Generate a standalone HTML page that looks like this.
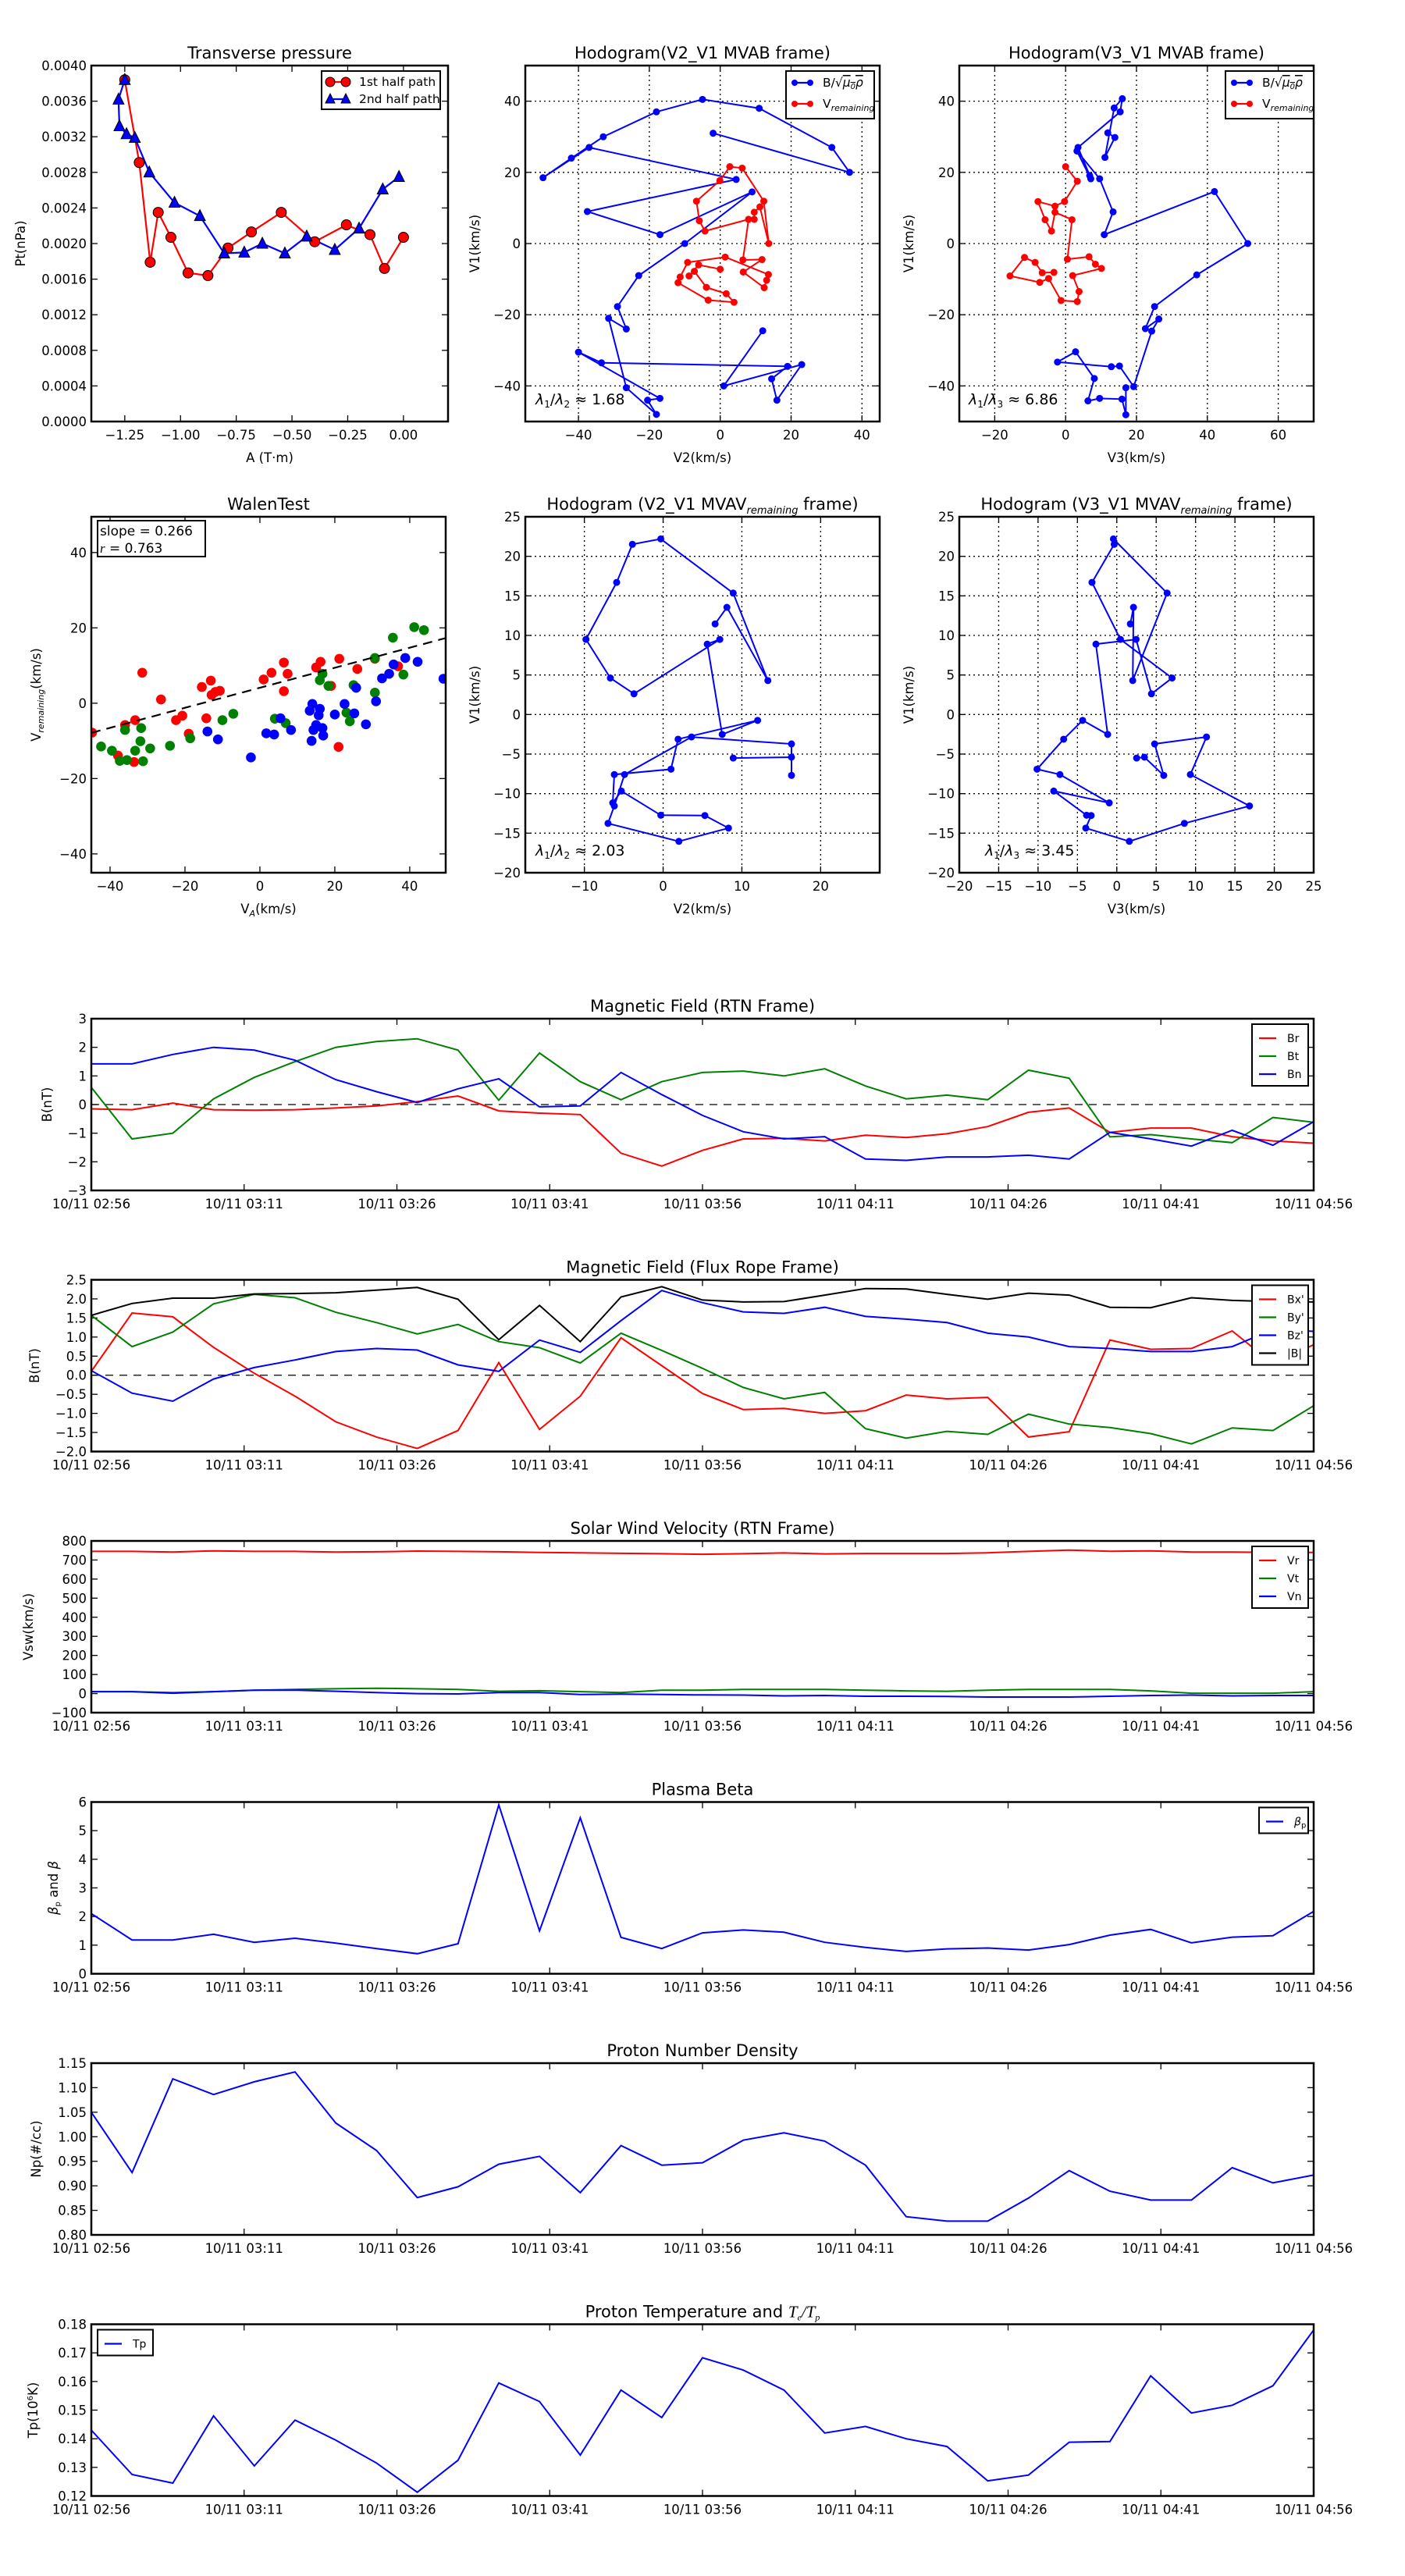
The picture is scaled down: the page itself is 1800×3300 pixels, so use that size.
<!DOCTYPE html>
<html><head><meta charset="utf-8"><style>
html,body{margin:0;padding:0;background:#fff}
svg{display:block;font-family:"DejaVu Sans","Liberation Sans",sans-serif}
</style></head><body>
<svg id="fig" width="1800" height="3300" viewBox="0 0 1800 3300" xmlns="http://www.w3.org/2000/svg">
<rect width="1800" height="3300" fill="#fff"/>
</svg>
<script>
// ---------- data ----------
const timeTickLabels=["10/11 02:56","10/11 03:11","10/11 03:26","10/11 03:41","10/11 03:56","10/11 04:11","10/11 04:26","10/11 04:41","10/11 04:56"];
const timeTickMinutes=[0,15,30,45,60,75,90,105,120];
const timeMinutes=[0,4,8,12,16,20,24,28,32,36,40,44,48,52,56,60,64,68,72,76,80,84,88,92,96,100,104,108,112,116,120];
const Br=[-0.15,-0.18,0.05,-0.18,-0.2,-0.18,-0.12,-0.05,0.1,0.3,-0.22,-0.3,-0.35,-1.7,-2.15,-1.6,-1.2,-1.18,-1.27,-1.07,-1.15,-1.02,-0.77,-0.27,-0.12,-0.97,-0.82,-0.82,-1.12,-1.27,-1.35];
const Bt=[0.6,-1.2,-1.0,0.2,0.95,1.5,2.0,2.2,2.3,1.9,0.15,1.8,0.8,0.17,0.8,1.12,1.17,1.0,1.25,0.65,0.2,0.33,0.17,1.2,0.92,-1.13,-1.05,-1.2,-1.33,-0.45,-0.62];
const Bn=[1.42,1.42,1.75,2.0,1.9,1.55,0.87,0.45,0.07,0.55,0.9,-0.08,-0.05,1.12,0.35,-0.38,-0.95,-1.2,-1.12,-1.9,-1.95,-1.83,-1.83,-1.77,-1.9,-0.97,-1.2,-1.45,-0.9,-1.42,-0.6];
const Bxp=[0.1,1.63,1.53,0.73,0.05,-0.55,-1.22,-1.62,-1.92,-1.45,0.33,-1.42,-0.55,0.98,0.25,-0.48,-0.9,-0.87,-1.0,-0.93,-0.52,-0.62,-0.58,-1.62,-1.48,0.92,0.68,0.7,1.16,0.3,0.8];
const Byp=[1.57,0.75,1.13,1.87,2.12,2.03,1.65,1.38,1.08,1.33,0.88,0.72,0.32,1.1,0.65,0.18,-0.32,-0.62,-0.45,-1.4,-1.65,-1.47,-1.55,-1.02,-1.28,-1.37,-1.53,-1.8,-1.38,-1.45,-0.8];
const Bzp=[0.12,-0.47,-0.68,-0.1,0.2,0.4,0.62,0.7,0.66,0.27,0.1,0.92,0.6,1.43,2.22,1.9,1.66,1.62,1.78,1.54,1.47,1.38,1.1,1.0,0.75,0.7,0.62,0.62,0.75,1.2,1.15];
const Bmag=[1.57,1.88,2.02,2.02,2.13,2.14,2.16,2.23,2.3,1.99,0.93,1.83,0.88,2.05,2.32,1.97,1.92,1.93,2.1,2.27,2.26,2.12,1.99,2.15,2.1,1.78,1.77,2.03,1.96,1.93,1.92];
const Vr=[745,745,742,748,745,745,742,743,747,745,743,740,738,735,733,730,733,737,732,734,734,734,738,745,752,746,748,742,742,740,740];
const Vt=[10,10,5,10,18,22,25,28,25,22,12,15,10,5,18,18,22,22,22,18,14,12,18,22,22,22,14,2,2,2,10];
const Vn=[10,10,2,10,18,18,12,5,0,-2,5,5,-5,-3,-5,-7,-8,-12,-10,-14,-14,-15,-18,-18,-18,-14,-10,-8,-12,-10,-10];
const betaP=[2.1,1.18,1.18,1.38,1.1,1.24,1.07,0.88,0.7,1.05,5.9,1.5,5.45,1.27,0.88,1.43,1.53,1.45,1.1,0.92,0.78,0.87,0.9,0.83,1.02,1.35,1.55,1.08,1.28,1.33,2.18];
const Np=[1.05,0.927,1.118,1.086,1.112,1.132,1.028,0.972,0.876,0.898,0.944,0.96,0.886,0.982,0.942,0.947,0.993,1.008,0.991,0.942,0.837,0.828,0.828,0.875,0.931,0.889,0.871,0.871,0.937,0.906,0.922];
const Tp=[0.143,0.1275,0.1245,0.148,0.1305,0.1465,0.1395,0.1315,0.1213,0.1325,0.1595,0.153,0.1343,0.157,0.1474,0.1683,0.164,0.157,0.142,0.1443,0.14,0.1373,0.1253,0.1273,0.1388,0.139,0.162,0.149,0.1517,0.1585,0.178];

const ptRedA=[-1.25,-1.185,-1.136,-1.10,-1.043,-0.966,-0.877,-0.787,-0.682,-0.548,-0.398,-0.256,-0.15,-0.085,0.0];
const ptRedP=[0.00384,0.00291,0.00179,0.00235,0.00207,0.00167,0.00164,0.00195,0.00213,0.00235,0.00202,0.00221,0.0021,0.00172,0.00207];
const ptBlueA=[-1.25,-1.278,-1.274,-1.242,-1.205,-1.14,-1.027,-0.913,-0.804,-0.714,-0.633,-0.532,-0.434,-0.308,-0.199,-0.093,-0.02];
const ptBlueP=[0.00384,0.00362,0.00332,0.00323,0.00319,0.0028,0.00246,0.00231,0.00189,0.0019,0.002,0.00189,0.00208,0.00193,0.00217,0.00261,0.00275];

const h1BX=[-2,36.5,31.5,11,-5,-18,-33,-42,-50,-37,4.5,-37.5,-17,9,-10,-23,-29,-26.5,-31.5,-26.5,-18,-20.5,-17,-40,-33.5,19,14.5,16,23,1,12];
const h1BY=[31,20,27,38,40.5,37,30,24,18.5,27,18,9,2.5,14.5,0,-9,-17.7,-24,-21,-40.5,-48,-44,-43.5,-30.5,-33.5,-34.5,-38,-44,-34,-40,-24.5];
const h1RX=[0,-6.1,-8.8,-7.3,-3.9,1.7,3.9,-3.4,-11.9,-11.3,-9.2,1.4,13.6,13.1,12.4,6.5,11.8,6.4,8,9.6,9.6,11.2,13.7,12.3,6.2,2.7,-0.1,-6.7,-5.9,-4.3,8];
const h1RY=[-7.2,-6,-9.1,-7.8,-12.3,-14.1,-16.5,-15.9,-11,-9.4,-5.3,-3.8,-8.7,-10.3,-12.4,-8,-4.5,-4.6,6.8,6.8,8.8,10.3,0,11.9,21.2,21.6,17.7,11.9,6.4,3.5,6.8];
const h2BX=[11.9,13.9,11.1,13.7,16,15.4,3.5,6.8,7.1,3.2,9.6,13.4,10.9,42,51.4,37,25.1,22.5,26.3,24.3,19.2,15.2,12.9,-2.3,2.8,8.1,6.3,9.6,15.9,17,17];
const h2BY=[31.1,29.8,24.2,38.1,40.7,37,27,19.1,18.2,26,18.2,8.9,2.5,14.6,0,-8.8,-17.7,-23.9,-21.2,-24.6,-40.2,-34.4,-34.6,-33.3,-30.4,-37.9,-44.2,-43.5,-43.7,-48.1,-40.5];
const h2RX=[0,3.3,-0.3,-3,-7.8,-5.8,-4,-3,1.8,0.5,6.6,8.4,10.1,2,3.8,3.3,-1.3,-4.8,-7.3,-15.7,-11.6,-8.6,-6.6,-3.3];
const h2RY=[21.6,17.5,11.8,10.5,11.8,6.7,3.5,8.8,6.7,-4.4,-3.7,-5.8,-7,-9,-13.5,-16.3,-16,-9.8,-10.9,-9.1,-3.9,-5.3,-8.2,-8.1];

const remV1=[11.45,13.55,4.29,15.35,22.2,21.52,16.7,9.5,4.61,2.62,9.5,8.9,-2.52,-0.74,-3.12,-6.91,-7.59,-11.17,-9.68,-12.73,-12.77,-14.36,-16.03,-13.76,-11.56,-7.59,-2.84,-3.72,-7.7,-5.39,-5.5];
const remV2=[6.6,8.1,13.3,8.9,-0.3,-3.9,-5.9,-9.8,-6.7,-3.7,7.2,5.6,7.5,12,1.9,1,-6.2,-6.4,-5.3,-0.3,5.3,8.3,2,-7,-6.2,-4.9,3.6,16.3,16.3,16.3,8.9];
const remV3=[1.72,2.12,2.02,6.39,-0.43,-0.33,-3.15,0.46,7.02,4.4,2.45,-2.65,-1.16,-4.34,-6.75,-10.13,-7.22,-0.96,-8.01,-3.84,-3.25,-3.94,1.59,8.58,16.85,9.34,11.39,4.8,5.96,3.51,2.52];

const walenRedX=[-44.8,-37.9,-36,-33.6,-33.3,-31.4,-26.4,-22.4,-20.7,-19,-15.5,-14.3,-13.1,-12.9,-11.9,-10.7,1,3.1,6.4,6.4,7.4,15,16.2,19,21,21.2,26,30.7,36.9];
const walenRedY=[-7.8,-13.9,-5.8,-15.6,-4.5,8.1,1,-4.5,-3.3,-8.1,4.3,-4,6,2.2,3,3.3,6.3,8.1,10.8,3.2,7.8,9.5,11,4.6,-11.6,11.8,9.1,11.8,9.8];
const walenGreenX=[-42.4,-39.5,-37.4,-36,-35.5,-33.3,-31.9,-31.7,-31.2,-29.3,-24,-18.6,-10,-7.1,4,6.9,16,16.7,18.3,23.1,24,25,30.7,30.7,35.5,38.3,41.2,43.8];
const walenGreenY=[-11.5,-12.6,-15.3,-7.1,-15.1,-12.6,-10.1,-6.6,-15.4,-12,-11.3,-9.3,-4.5,-2.8,-4.1,-5.3,6.1,7.8,4.6,-2.5,-4.8,4.8,2.8,12,17.4,7.6,20.2,19.4];
const walenBlueX=[-14,-11.2,-2.4,1.7,3.8,5.5,8.3,13.3,14,13.8,14.3,15,15.7,16,16.7,16.9,20,22.6,25.2,25.7,28.3,31,32.6,34.5,35.7,38.8,42.1,49];
const walenBlueY=[-7.5,-9.6,-14.4,-8,-8.3,-4,-7.1,-2,-0.2,-10,-7.1,-5.8,-3.2,-1.5,-6.6,-8.6,-3,-0.2,-2.7,4.1,-5.6,0.5,6.6,7.8,10.3,12,11,6.5];
const walenSlope=[0.266];
const walenIntercept=[4.1];

// ---------- helpers ----------
const NS='http://www.w3.org/2000/svg';
const svg=document.getElementById('fig');
function mk(tag,attrs,parent){const e=document.createElementNS(NS,tag);for(const k in attrs)e.setAttribute(k,attrs[k]);(parent||svg).appendChild(e);return e;}
function fmtNum(v,d){const s=Math.abs(v).toFixed(d);return (v<0?'\u2212':'')+s;}
function txt(x,y,s,size,anchor,parent,extra){const t=mk('text',Object.assign({x:x,y:y,'font-size':size,'text-anchor':anchor||'middle',fill:'#000'},extra||{}),parent);t.textContent=s;return t;}

function makeAxes(o){
  const g=mk('g',{});
  
  
  const sx=v=>o.x0+(v-o.xmin)/(o.xmax-o.xmin)*o.w;
  const sy=v=>o.y0+o.h-(v-o.ymin)/(o.ymax-o.ymin)*o.h;
  const clipId='c'+o.name;
  const cp=mk('clipPath',{id:clipId},g);mk('rect',{x:o.x0,y:o.y0,width:o.w,height:o.h},cp);
  if(o.grid){
    o.xticks.forEach(v=>{const l=mk('line',{x1:sx(v),x2:sx(v),y1:o.y0,y2:o.y0+o.h,stroke:'#000','stroke-width':1.3,'stroke-dasharray':'2,4'},g);});
    o.yticks.forEach(v=>{const l=mk('line',{x1:o.x0,x2:o.x0+o.w,y1:sy(v),y2:sy(v),stroke:'#000','stroke-width':1.3,'stroke-dasharray':'2,4'},g);});
  }
  o.xticks.forEach((v,i)=>{
    const X=sx(v);
    mk('line',{x1:X,x2:X,y1:o.y0+o.h,y2:o.y0+o.h-8,stroke:'#000','stroke-width':1.3},g);
    mk('line',{x1:X,x2:X,y1:o.y0,y2:o.y0+8,stroke:'#000','stroke-width':1.3},g);
    const t=txt(X,o.y0+o.h+23,o.xlabels?o.xlabels[i]:fmtNum(v,o.xdec||0),16.5,'middle',g);
    
    
  });
  o.yticks.forEach((v,i)=>{
    const Y=sy(v);
    mk('line',{x1:o.x0,x2:o.x0+8,y1:Y,y2:Y,stroke:'#000','stroke-width':1.3},g);
    mk('line',{x1:o.x0+o.w,x2:o.x0+o.w-8,y1:Y,y2:Y,stroke:'#000','stroke-width':1.3},g);
    const t=txt(o.x0-6,Y+6,fmtNum(v,o.ydec||0),16.5,'end',g);
    
    
  });
  const plot=mk('g',{'clip-path':'url(#'+clipId+')'},g);
  
  
  const fr=mk('rect',{x:o.x0,y:o.y0,width:o.w,height:o.h,fill:'none',stroke:'#000','stroke-width':2.5},g);
  
  
  const tt=txt(o.x0+o.w/2,o.y0-9,o.title,21,'middle',g);
  
  
  if(o.ttitleHTML){tt.textContent='';tt.innerHTML=o.ttitleHTML;}
  if(o.xlabel){const t=txt(o.x0+o.w/2,o.y0+o.h+52,o.xlabel,16.5,'middle',g);if(o.xlabelHTML)t.innerHTML=o.xlabelHTML;}
  if(o.ylabel){const cx=o.ylx,cy=o.y0+o.h/2;const t=txt(cx,cy,o.ylabel,16.5,'middle',g,{transform:'rotate(-90 '+cx+' '+cy+')'});if(o.ylabelHTML)t.innerHTML=o.ylabelHTML;}
  return {g,plot,sx,sy};
}
function polyline(ax,xs,ys,color,w,name){
  const pts=xs.map((x,i)=>ax.sx(x).toFixed(1)+','+ax.sy(ys[i]).toFixed(1)).join(' ');
  const p=mk('polyline',{points:pts,fill:'none',stroke:color,'stroke-width':w||2,'stroke-linejoin':'miter'},ax.plot);
  
  
  return p;
}
function dots(ax,xs,ys,color,r,name,stroke){
  xs.forEach((x,i)=>{
    const c=mk('circle',{cx:ax.sx(x),cy:ax.sy(ys[i]),r:r,fill:color,stroke:stroke||'none','stroke-width':1},ax.plot);
    
    
  });
}
function legendBox(x,y,w,h,entries,name,fs,lineLen){
  const g=mk('g',{});
  
  
  mk('rect',{x:x,y:y,width:w,height:h,fill:'#fff',stroke:'#000','stroke-width':2},g);
  entries.forEach(e=>{
    const eg=mk('g',{},g);
    
    
    mk('line',{x1:x+e.lx,x2:x+e.lx+lineLen,y1:y+e.y,y2:y+e.y,stroke:e.color,'stroke-width':2.2},eg);
    if(e.marker==='dot'){mk('circle',{cx:x+e.lx,cy:y+e.y,r:4,fill:e.color},eg);mk('circle',{cx:x+e.lx+lineLen,cy:y+e.y,r:4,fill:e.color},eg);}
    if(e.marker==='bigdot'){mk('circle',{cx:x+e.lx,cy:y+e.y,r:6,fill:e.color,stroke:'#000'},eg);mk('circle',{cx:x+e.lx+lineLen,cy:y+e.y,r:6,fill:e.color,stroke:'#000'},eg);}
    if(e.marker==='tri'){[x+e.lx,x+e.lx+lineLen].forEach(cx=>mk('polygon',{points:(cx-6)+','+(y+e.y+5)+' '+(cx+6)+','+(y+e.y+5)+' '+cx+','+(y+e.y-7),fill:e.color,stroke:'#000'},eg));}
    const t=txt(x+e.tx,y+e.y+5,e.label,fs,'start',eg);
    if(e.html)t.innerHTML=e.html;
  });
  return g;
}

// ---------- Row 1 ----------
const axP=makeAxes({name:'transverse-pressure-chart',x0:117,y0:84,w:457,h:456,xmin:-1.4,xmax:0.2,ymin:0,ymax:0.004,
  xticks:[-1.25,-1,-0.75,-0.5,-0.25,0],xdec:2,yticks:[0,0.0004,0.0008,0.0012,0.0016,0.002,0.0024,0.0028,0.0032,0.0036,0.004],ydec:4,
  title:'Transverse pressure',xlabel:'A (T\u00b7m)',ylabel:'Pt(nPa)',ylx:32});
polyline(axP,ptRedA,ptRedP,'#f00',2.2,'first-half-path-line');
polyline(axP,ptBlueA,ptBlueP,'#00f',2.2,'second-half-path-line');
dots(axP,ptRedA,ptRedP,'#f00',6.5,'first-half-point','#000');
ptBlueA.forEach((a,i)=>{const X=axP.sx(a),Y=axP.sy(ptBlueP[i]);
  const t=mk('polygon',{points:(X-7)+','+(Y+6)+' '+(X+7)+','+(Y+6)+' '+X+','+(Y-8),fill:'#00f',stroke:'#000','stroke-width':1},axP.plot);
  
  });
legendBox(412,91,152,49,[{lx:11,y:14,tx:48,color:'#f00',marker:'bigdot',label:'1st half path'},{lx:11,y:36,tx:48,color:'#00f',marker:'tri',label:'2nd half path'}],'pressure-legend',15.5,20);

function hodo(name,x0,y0,w,h,xmin,xmax,ymin,ymax,xt,yt,title,xl,ylx,titleHTML){
  return makeAxes({name:name,x0:x0,y0:y0,w:w,h:h,xmin:xmin,xmax:xmax,ymin:ymin,ymax:ymax,xticks:xt,yticks:yt,grid:true,title:title,ttitleHTML:titleHTML,xlabel:xl,ylabel:'V1(km/s)',ylx:ylx});
}
const ax1=hodo('hodogram-v2-v1-mvab',673,84,454,456,-55,45,-50,50,[-40,-20,0,20,40],[-40,-20,0,20,40],'Hodogram(V2_V1 MVAB frame)','V2(km/s)',614);
polyline(ax1,h1BX,h1BY,'#00f',2,'b-alfven-line');dots(ax1,h1BX,h1BY,'#00f',4.5,'b-alfven-point');
polyline(ax1,h1RX,h1RY,'#f00',2,'v-remaining-line');dots(ax1,h1RX,h1RY,'#f00',4.5,'v-remaining-point');
const ax2=hodo('hodogram-v3-v1-mvab',1229,84,454,456,-30,70,-50,50,[-20,0,20,40,60],[-40,-20,0,20,40],'Hodogram(V3_V1 MVAB frame)','V3(km/s)',1170);
polyline(ax2,h2BX,h2BY,'#00f',2,'b-alfven-line');dots(ax2,h2BX,h2BY,'#00f',4.5,'b-alfven-point');
polyline(ax2,h2RX,h2RY,'#f00',2,'v-remaining-line');dots(ax2,h2RX,h2RY,'#f00',4.5,'v-remaining-point');
const legB=[{lx:11,y:15,tx:47,color:'#00f',marker:'dot',label:'B/\u221a\u03bc0\u03c1',html:'B/\u221a<tspan text-decoration="overline" font-style="italic">\u03bc<tspan font-size="10" dy="3">0</tspan><tspan dy="-3">\u03c1</tspan></tspan>'},
  {lx:11,y:42,tx:47,color:'#f00',marker:'dot',label:'Vremaining',html:'V<tspan font-size="11" font-style="italic" dy="4">remaining</tspan>'}];
legendBox(1007,91,113,61,legB,'hodogram-legend',15.5,20);
legendBox(1570,91,113,61,legB,'hodogram-legend',15.5,20);
function lamb(x,y,a,b,v,name){const t=txt(x,y,'',19,'start');t.innerHTML='<tspan font-style="italic">\u03bb</tspan><tspan font-size="12" dy="4">'+a+'</tspan><tspan dy="-4">/</tspan><tspan font-style="italic">\u03bb</tspan><tspan font-size="12" dy="4">'+b+'</tspan><tspan dy="-4"> \u2248 '+v+'</tspan>';}
lamb(686,518,1,2,'1.68','eigenvalue-ratio-label');
lamb(1241,518,1,3,'6.86','eigenvalue-ratio-label');

// ---------- Row 2 ----------
const axW=makeAxes({name:'walen-test-chart',x0:117,y0:662,w:454,h:456,xmin:-45,xmax:49.6,ymin:-45,ymax:49.5,xticks:[-40,-20,0,20,40],yticks:[-40,-20,0,20,40],
  title:'WalenTest',xlabel:'VA(km/s)',xlabelHTML:'V<tspan font-size="11" font-style="italic" dy="4">A</tspan><tspan dy="-4">(km/s)</tspan>',ylabel:'Vremaining(km/s)',ylabelHTML:'V<tspan font-size="11" font-style="italic" dy="4">remaining</tspan><tspan dy="-4">(km/s)</tspan>',ylx:52});
dots(axW,walenRedX,walenRedY,'#f00',6.3,'walen-point-red');
dots(axW,walenGreenX,walenGreenY,'#008000',6.3,'walen-point-green');
dots(axW,walenBlueX,walenBlueY,'#00f',6.3,'walen-point-blue');
(function(){const xs=[-45,49.6];const ys=xs.map(x=>walenIntercept[0]+walenSlope[0]*x);
 const l=mk('line',{x1:axW.sx(xs[0]),y1:axW.sy(ys[0]),x2:axW.sx(xs[1]),y2:axW.sy(ys[1]),stroke:'#000','stroke-width':2.2,'stroke-dasharray':'12,8'},axW.plot);
 
 })();
(function(){const g=mk('g',{});
 mk('rect',{x:125,y:667,width:138,height:46,fill:'#fff',stroke:'#000','stroke-width':2},g);
 txt(128,686,'slope = 0.266',17,'start',g);const t=txt(128,708,'',17,'start',g);t.innerHTML='<tspan font-style="italic" font-family="Liberation Serif,serif">r</tspan> = 0.763';})();

const ax3=hodo('hodogram-v2-v1-mvav',673,662,454,456,-17.5,27.5,-20,25,[-10,0,10,20],[-20,-15,-10,-5,0,5,10,15,20,25],'Hodogram (V2_V1 MVAVremaining frame)','V2(km/s)',614,'Hodogram (V2_V1 MVAV<tspan font-size="13" font-style="italic" dy="5">remaining</tspan><tspan dy="-5"> frame)</tspan>');
polyline(ax3,remV2,remV1,'#00f',2,'v-remaining-line');dots(ax3,remV2,remV1,'#00f',4.5,'v-remaining-point');
const ax4=hodo('hodogram-v3-v1-mvav',1229,662,454,456,-20,25,-20,25,[-20,-15,-10,-5,0,5,10,15,20,25],[-20,-15,-10,-5,0,5,10,15,20,25],'Hodogram (V3_V1 MVAVremaining frame)','V3(km/s)',1170,'Hodogram (V3_V1 MVAV<tspan font-size="13" font-style="italic" dy="5">remaining</tspan><tspan dy="-5"> frame)</tspan>');
polyline(ax4,remV3,remV1,'#00f',2,'v-remaining-line');dots(ax4,remV3,remV1,'#00f',4.5,'v-remaining-point');
lamb(686,1096,1,2,'2.03','eigenvalue-ratio-label');
lamb(1262,1096,1,3,'3.45','eigenvalue-ratio-label');

// ---------- time series ----------
function ts(i,name,title,ylabel,ylx,ymin,ymax,yt,ydec,series,leg,zero,titleHTML,ylabelHTML){
  const y0=1305+334.5*i;
  const ax=makeAxes({name:name,x0:117,y0:y0,w:1566,h:220,xmin:0,xmax:120,ymin:ymin,ymax:ymax,xticks:timeTickMinutes,xlabels:timeTickLabels,yticks:yt,ydec:ydec,title:title,ttitleHTML:titleHTML,ylabel:ylabel,ylabelHTML:ylabelHTML,ylx:ylx});
  if(zero){const l=mk('line',{x1:117,x2:1683,y1:ax.sy(0),y2:ax.sy(0),stroke:'#000','stroke-width':1.3,'stroke-dasharray':'10,8'},ax.plot);}
  series.forEach(s=>polyline(ax,timeMinutes,s.v,s.c,2,s.n));
  if(leg){legendBox(leg.x,y0+leg.dy,leg.w,series.length*23+10,series.map((s,k)=>({lx:9,y:18+23*k,tx:45,color:s.c,label:s.l,html:s.h})),name+'-legend',14,22);}
  return ax;
}
ts(0,'magnetic-field-rtn-chart','Magnetic Field (RTN Frame)','B(nT)',66,-3,3,[-3,-2,-1,0,1,2,3],0,
  [{v:Br,c:'#f00',l:'Br',n:'br-line'},{v:Bt,c:'#008000',l:'Bt',n:'bt-line'},{v:Bn,c:'#00f',l:'Bn',n:'bn-line'}],{x:1604,dy:7,w:72},true);
ts(1,'magnetic-field-flux-rope-chart','Magnetic Field (Flux Rope Frame)','B(nT)',50,-2,2.5,[-2,-1.5,-1,-0.5,0,0.5,1,1.5,2,2.5],1,
  [{v:Bxp,c:'#f00',l:"Bx'",n:'bx-line'},{v:Byp,c:'#008000',l:"By'",n:'by-line'},{v:Bzp,c:'#00f',l:"Bz'",n:'bz-line'},{v:Bmag,c:'#000',l:'|B|',n:'b-magnitude-line'}],{x:1604,dy:7,w:72},true);
ts(2,'solar-wind-velocity-chart','Solar Wind Velocity (RTN Frame)','Vsw(km/s)',42,-100,800,[-100,0,100,200,300,400,500,600,700,800],0,
  [{v:Vr,c:'#f00',l:'Vr',n:'vr-line'},{v:Vt,c:'#008000',l:'Vt',n:'vt-line'},{v:Vn,c:'#00f',l:'Vn',n:'vn-line'}],{x:1604,dy:7,w:72},false);
ts(3,'plasma-beta-chart','Plasma Beta','\u03b2p and \u03b2',74,0,6,[0,1,2,3,4,5,6],0,
  [{v:betaP,c:'#00f',l:'\u03b2p',n:'beta-line',h:'<tspan font-style="italic">\u03b2</tspan><tspan font-size="10" dy="3">p</tspan>'}],{x:1613,dy:7,w:63},false,null,
  '<tspan font-style="italic">\u03b2</tspan><tspan font-size="10" dy="3">p</tspan><tspan dy="-3"> and </tspan><tspan font-style="italic">\u03b2</tspan>');
ts(4,'proton-density-chart','Proton Number Density','Np(#/cc)',52,0.8,1.15,[0.8,0.85,0.9,0.95,1.0,1.05,1.1,1.15],2,
  [{v:Np,c:'#00f',l:'Np',n:'density-line'}],null,false);
ts(5,'proton-temperature-chart','Proton Temperature and Te/Tp','Tp(10^6K)',48,0.12,0.18,[0.12,0.13,0.14,0.15,0.16,0.17,0.18],2,
  [{v:Tp,c:'#00f',l:'Tp',n:'tp-line'}],{x:125,dy:7,w:71},false,
  'Proton Temperature and <tspan font-style="italic" font-family="Liberation Serif,serif">T<tspan font-size="12" dy="4">e</tspan><tspan dy="-4">/T</tspan><tspan font-size="12" dy="4">p</tspan></tspan>',
  'Tp(10<tspan font-size="10" dy="-6">6</tspan><tspan dy="6">K)</tspan>');
</script>
</body></html>
